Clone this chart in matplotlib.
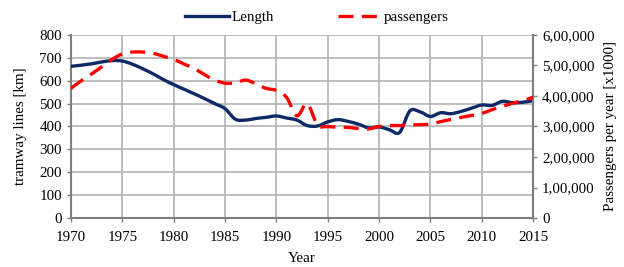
import matplotlib
matplotlib.use("Agg")
import matplotlib.pyplot as plt
from matplotlib.lines import Line2D
from matplotlib.path import Path
from matplotlib.patches import PathPatch

plt.rcParams['font.family'] = ['Liberation Serif', 'DejaVu Serif']
plt.rcParams['font.size'] = 10.8

years = list(range(1970, 2016))
length_km = [663, 668, 674, 682, 688, 686, 672, 652, 630, 605,
             583, 563, 543, 522, 500, 478, 432, 428, 435, 440,
             446, 437, 428, 404, 402, 420, 430, 422, 410, 394,
             398, 386, 374, 468, 464, 444, 460, 456, 466, 480,
             494, 492, 510, 504, 506, 513]
passengers_k = [425, 450, 472, 496, 520, 538, 544, 544, 540, 530,
                520, 505, 490, 470, 452, 442, 443, 452, 440, 425,
                418, 395, 335, 375, 305, 300, 298, 297, 293, 292,
                300, 303, 303, 305, 306, 308, 316, 323, 330, 336,
                343, 355, 366, 376, 385, 396]
passengers = [p * 1000 for p in passengers_k]

x_ticks = list(range(1970, 2016, 5))
left_ticks = list(range(0, 801, 100))
right_ticks = list(range(0, 600001, 100000))
right_labels = ['0', '1,00,000', '2,00,000', '3,00,000', '4,00,000', '5,00,000', '6,00,000']


def smooth_path(xs, ys):
    """Excel-like smoothed line: cubic Bezier segments through the data points."""
    verts = [(xs[0], ys[0])]
    codes = [Path.MOVETO]
    n = len(xs)
    for i in range(n - 1):
        x0, y0 = (xs[i - 1], ys[i - 1]) if i > 0 else (xs[i], ys[i])
        x1, y1 = xs[i], ys[i]
        x2, y2 = xs[i + 1], ys[i + 1]
        x3, y3 = (xs[i + 2], ys[i + 2]) if i + 2 < n else (xs[i + 1], ys[i + 1])
        c1 = (x1 + (x2 - x0) / 6.0, y1 + (y2 - y0) / 6.0)
        c2 = (x2 - (x3 - x1) / 6.0, y2 - (y3 - y1) / 6.0)
        verts += [c1, c2, (x2, y2)]
        codes += [Path.CURVE4] * 3
    return Path(verts, codes)


fig = plt.figure(figsize=(6.24, 2.67), dpi=100)
ax = fig.add_axes([0.1138, 0.1835, 0.7405, 0.6855])
ax2 = ax.twinx()

grid_c = '#b3b3b3'
spine_c = '#7f7f7f'
blue = '#0d2a66'
red = '#ff0000'

ax.add_patch(PathPatch(smooth_path(years, length_km), facecolor='none', edgecolor=blue,
                       lw=2.4, capstyle='round', joinstyle='round', zorder=3))
ax2.add_patch(PathPatch(smooth_path(years, passengers), facecolor='none', edgecolor=red,
                        lw=2.4, linestyle=(0, (4.5, 2.5)), zorder=3))

ax.set_xlim(1970, 2015)
ax.set_ylim(0, 800)
ax2.set_ylim(0, 600000)
ax.set_xticks(x_ticks)
ax.set_yticks(left_ticks)
ax2.set_yticks(right_ticks)
ax2.set_yticklabels(right_labels)

ax.grid(True, color=grid_c, lw=1.2)
ax.set_axisbelow(True)
for a in (ax, ax2):
    a.spines['top'].set_visible(False)
    for s in ('left', 'bottom', 'right'):
        a.spines[s].set_color(spine_c)
        a.spines[s].set_linewidth(1.5)
    a.tick_params(colors=spine_c, labelcolor='black', length=3, width=1)
ax2.spines['left'].set_visible(False)
ax2.spines['bottom'].set_visible(False)
ax.tick_params(axis='x', pad=6)

ax.set_xlabel('Year', labelpad=6)
ax.set_ylabel('tramway lines [km]', labelpad=9)
ax2.set_ylabel('Passengers per year [x1000]', labelpad=7)

handles = [Line2D([], [], color=blue, lw=2.4),
           Line2D([], [], color=red, lw=2.4, dashes=(4.5, 2.5))]
fig.legend(handles, ['Length', 'passengers'], loc='center', bbox_to_anchor=(0.508, 0.935),
           ncol=2, frameon=False, handlelength=2.9, columnspacing=4.3, handletextpad=0.15)

fig.savefig('out.png', dpi=100)
